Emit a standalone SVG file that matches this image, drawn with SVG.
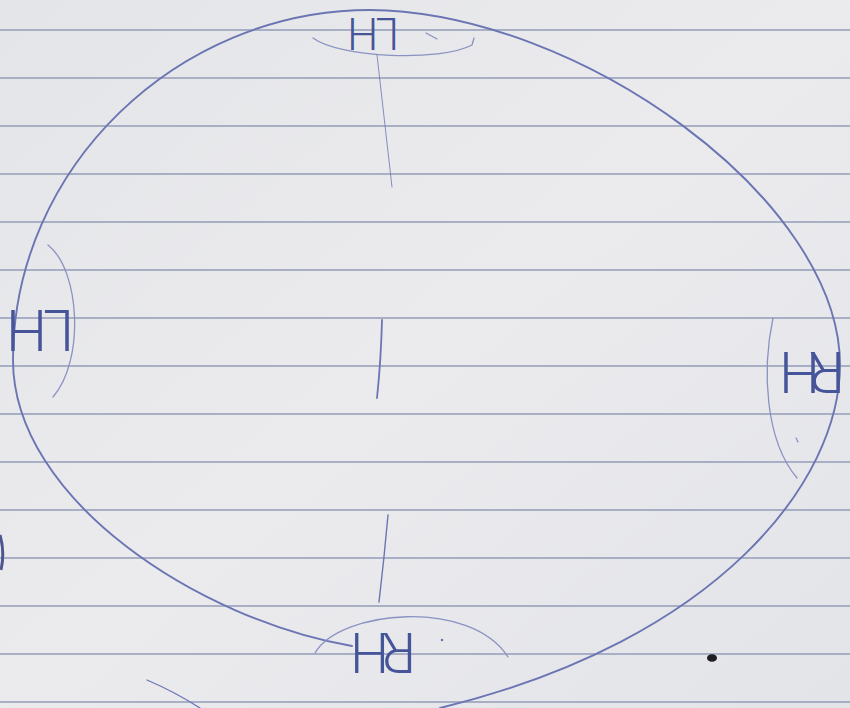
<svg xmlns="http://www.w3.org/2000/svg" width="850" height="708" viewBox="0 0 850 708">
<style>
.rule{stroke:#939cb8;stroke-width:1.4;fill:none}
.ink{fill:none;stroke:#6b75b3;stroke-linecap:round;stroke-linejoin:round}
.outer{stroke-width:1.9}
.arc{stroke:#8a92c2;stroke-width:1.3}
.lbl{font-family:Roboto,"Open Sans","Liberation Sans",sans-serif;font-weight:300;fill:#46549a;text-anchor:middle}
.stem{fill:none;stroke:#6b75b3;stroke-linecap:round}
</style>
<defs>
<linearGradient id="paper" x1="0" y1="0" x2="1" y2="1">
<stop offset="0" stop-color="#e4e5e8"/>
<stop offset="0.5" stop-color="#ebebee"/>
<stop offset="1" stop-color="#e3e4e8"/>
</linearGradient>
</defs>
<rect width="850" height="708" fill="url(#paper)"/>
<g id="paper-lines">
<line class="rule" x1="0" y1="30" x2="850" y2="30"/>
<line class="rule" x1="0" y1="78" x2="850" y2="78"/>
<line class="rule" x1="0" y1="126" x2="850" y2="126"/>
<line class="rule" x1="0" y1="174" x2="850" y2="174"/>
<line class="rule" x1="0" y1="222" x2="850" y2="222"/>
<line class="rule" x1="0" y1="270" x2="850" y2="270"/>
<line class="rule" x1="0" y1="318" x2="850" y2="318"/>
<line class="rule" x1="0" y1="366" x2="850" y2="366"/>
<line class="rule" x1="0" y1="414" x2="850" y2="414"/>
<line class="rule" x1="0" y1="462" x2="850" y2="462"/>
<line class="rule" x1="0" y1="510" x2="850" y2="510"/>
<line class="rule" x1="0" y1="558" x2="850" y2="558"/>
<line class="rule" x1="0" y1="606" x2="850" y2="606"/>
<line class="rule" x1="0" y1="654" x2="850" y2="654"/>
<line class="rule" x1="0" y1="702" x2="850" y2="702"/>
</g>
<g id="outline">
<path class="ink outer" d="M352,646 C200,620 13,500 13,360 C13,167 178,10 370,10 C580,12 840,200 840,365 C840,480 720,640 440,708"/>
</g>
<g id="top-lh">
<path class="ink arc" d="M313,38 C340,58 440,62 472,45 L474,38"/>
<path class="ink arc" d="M426,33 L437,39"/>
<text class="lbl" x="373" y="50" font-size="44" textLength="52" transform="rotate(180 373 34)">LH</text>
</g>
<g id="left-lh">
<path class="ink arc" d="M48,245 C80,270 85,360 53,397"/>
<text class="lbl" x="40" y="350" font-size="58" textLength="68" transform="rotate(180 40 330)">LH</text>
</g>
<g id="right-rh">
<path class="ink arc" d="M773,318 C762,370 765,440 797,478"/>
<path class="ink arc" d="M796,438 L798,442"/>
<text class="lbl" x="812" y="392" font-size="58" textLength="66" transform="rotate(180 812 372)">RH</text>
</g>
<g id="bottom-rh">
<path class="ink arc" d="M315,653 C340,610 470,598 508,657"/>
<circle cx="442" cy="640" r="1.3" fill="#6b75b3"/>
<text class="lbl" x="383" y="671" font-size="55" textLength="66" transform="rotate(180 383 652)">RH</text>
</g>
<g id="connectors">
<path class="stem" stroke-width="1" opacity="0.8" d="M377,55 L392,187"/>
<path class="stem" stroke-width="1.8" d="M382,320 Q381,360 377,398"/>
<path class="stem" stroke-width="1.4" d="M388,515 Q384,560 379,602"/>
</g>
<g id="marks">
<path class="ink" stroke-width="1.3" d="M147,680 Q175,692 200,708"/>
<path fill="none" stroke="#4c5590" stroke-width="3" d="M0,535 Q5,552 1,570"/>
<ellipse cx="712" cy="658" rx="5" ry="3.8" fill="#1e1e22"/>
</g>
</svg>
